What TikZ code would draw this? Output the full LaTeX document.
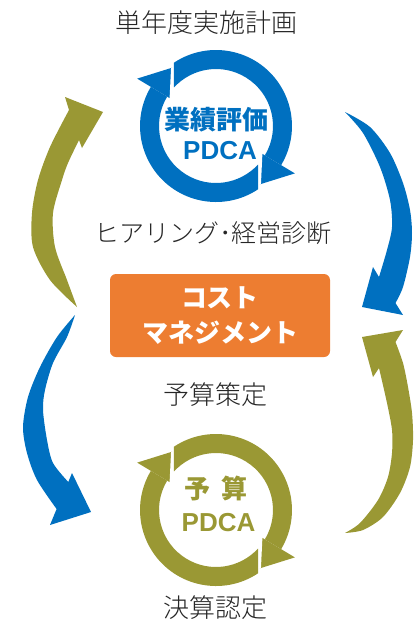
\documentclass[tikz,border=0pt]{standalone}
\usepackage{fontspec}
\setmainfont{Noto Sans CJK JP}
\newfontfamily\lightcjk{Noto Sans CJK JP}[UprightFont={* Light}]
\newfontfamily\latinbold{Liberation Sans}
\definecolor{ringblue}{HTML}{0070C0}
\definecolor{olivec}{HTML}{9A9834}
\definecolor{orangec}{HTML}{ED7D31}
\definecolor{txt}{HTML}{262626}
\newcommand\ringarrow[4]{%
 \begin{scope}[shift={#1}]
 \fill[#2] ({#3+3.4}:76) arc[start angle={#3+3.4}, end angle=#4, radius=76] -- (#4:57) arc[start angle=#4, end angle={#3-10.5}, radius=57] -- cycle;
 \fill[#2] (#4:54) -- (#4:92) -- ({#4+22}:73) -- cycle;
 \draw[white, line width=2pt] (#4:53) -- ({#4+22}:73);
 \end{scope}}
\begin{document}
\begin{tikzpicture}[x=1pt,y=-1pt,
  lbl/.style={text=txt, inner sep=0pt, font=\lightcjk\fontsize{26}{30}\selectfont},
  ringtxt/.style={inner sep=0pt, font=\bfseries\fontsize{26}{30}\selectfont},
  pdca/.style={inner sep=0pt, font=\latinbold\bfseries\fontsize{26}{30}\selectfont},
  box/.style={fill=orangec, rounded corners=6pt, minimum width=220pt, minimum height=83pt, text=white, align=center, inner sep=0pt, font=\bfseries\fontsize{26}{35}\selectfont}]
\useasboundingbox (0,0) rectangle (413,622);
% ring cycles
\ringarrow{(216,126)}{ringblue}{53}{211}
\ringarrow{(216,126)}{ringblue}{233}{391}
\ringarrow{(216,510)}{olivec}{53}{211}
\ringarrow{(216,510)}{olivec}{233}{391}
% big curved arrows
\fill[olivec] plot[smooth] coordinates {(77,307) (50,280) (33,247) (32,213) (38,180) (50,147) (69,110)} -- (65,97) -- (103,112) -- (82,148) -- plot[smooth] coordinates {(79,140) (68,163) (62,180) (53,213) (55,247) (67,280) (77,307)} -- cycle;
\fill[ringblue] plot[smooth] coordinates {(345,112) (370,127) (390,153) (403,183) (410,210) (412,233) (410,257) (403,287) (395.5,303)} -- (403,315) -- (362,307) -- (373,267) -- plot[smooth] coordinates {(379,277) (387,250) (392,227) (390,200) (380,167) (363,133) (345,112)} -- cycle;
\fill[ringblue] plot[smooth] coordinates {(75,315) (57,337) (40,367) (28,397) (23,427) (27,453) (37,480) (56.6,509)} -- (50,525) -- (91,512) -- (72,473) -- plot[smooth] coordinates {(68.3,482) (53,463) (47,440) (43,410) (45,390) (53,363) (67,337) (75,315)} -- cycle;
\fill[olivec] plot[smooth] coordinates {(345,533) (363,530) (383,517) (400,493) (410,467) (413,440) (412,413) (408,387) (403,363) (395.5,342)} -- (403,330) -- (362,337) -- (373,377) -- plot[smooth] coordinates {(379,368) (387,403) (392,430) (392,453) (388,477) (378,500) (360,523) (345,533)} -- cycle;
% texts
\node[lbl] (plan) at (206.5,23) {単年度実施計画};
\node[lbl, font=\lightcjk\fontsize{25}{28}\selectfont] (hearing) at (213,233) {ヒアリング･経営診断};
\node[lbl] (budget) at (215.5,395) {予算策定};
\node[lbl] (settle) at (215,608) {決算認定};
\node[ringtxt, text=ringblue] (evalA) at (216.5,120) {業績評価};
\node[pdca, text=ringblue] (evalB) at (220,151) {PDCA};
\node[ringtxt, text=olivec] (budA) at (216,488.5) {予\hspace{12pt}算};
\node[pdca, text=olivec] (budB) at (218.5,522.5) {PDCA};
\node[box] (cm) at (220,315.5) {コスト\\マネジメント};
\end{tikzpicture}
\end{document}
